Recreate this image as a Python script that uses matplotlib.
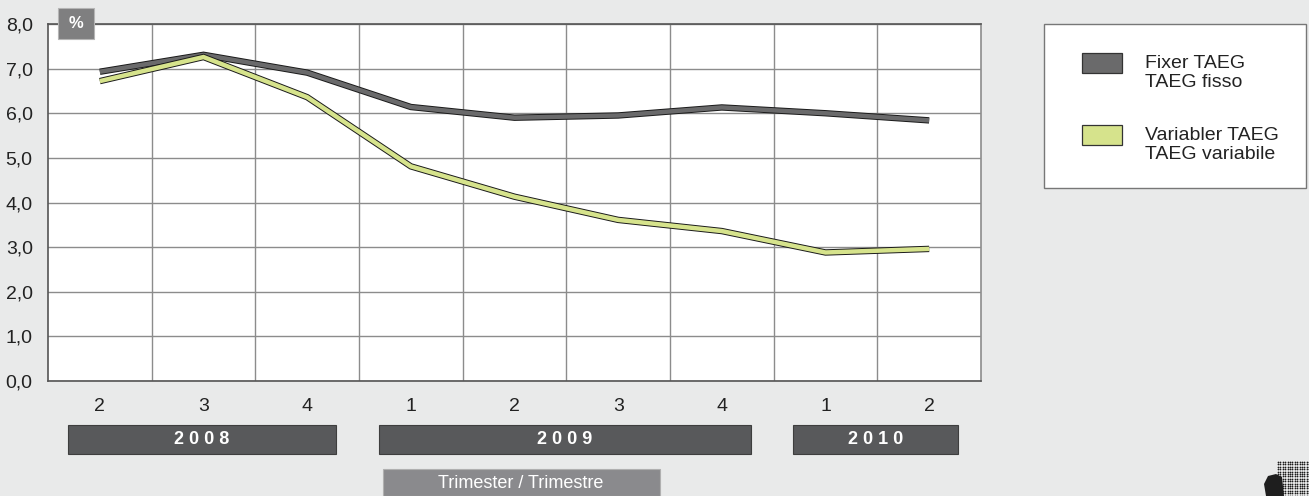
import matplotlib.pyplot as plt
import matplotlib.patches as patches
import matplotlib.patheffects as pe
from matplotlib.transforms import blended_transform_factory

# Data
quarters = ["2", "3", "4", "1", "2", "3", "4", "1", "2"]
fixed_taeg = [6.93, 7.31, 6.91, 6.14, 5.90, 5.95, 6.13, 6.00, 5.84]
variable_taeg = [6.72, 7.26, 6.36, 4.81, 4.13, 3.61, 3.36, 2.88, 2.96]
years = ["2008", "2009", "2010"]
year_spans = [(0, 2), (3, 6), (7, 8)]
y_ticks = [0, 1, 2, 3, 4, 5, 6, 7, 8]

W, H = 1309, 496
bg = "#e9eaea"
dark = "#6a6a6b"
light = "#d6e38c"
bar_col = "#58595b"
grid_col = "#8c8c8c"

plt.rcParams["font.family"] = ["Liberation Sans", "DejaVu Sans"]

fig = plt.figure(figsize=(W / 100, H / 100), dpi=100, facecolor=bg)


def px(x0, y0, x1, y1):
    """Pixel box (top-left origin) -> figure fraction rect."""
    return [x0 / W, 1 - y1 / H, (x1 - x0) / W, (y1 - y0) / H]


ax = fig.add_axes(px(48, 24, 981, 381))
ax.set_facecolor("white")
ax.set_xlim(-0.5, 8.5)
ax.set_ylim(0, 8)

x = list(range(len(quarters)))
for vals, col in [(fixed_taeg, dark), (variable_taeg, light)]:
    ax.plot(x, vals, color=col, lw=3.2, solid_joinstyle="miter", solid_capstyle="butt",
            path_effects=[pe.Stroke(linewidth=4.6, foreground="#1a1a1a"), pe.Normal()], zorder=3)

ax.set_yticks(y_ticks)
ax.set_yticklabels([f"{v},0" for v in y_ticks], fontsize=14, color="#222222")
ax.set_xticks(x)
ax.set_xticklabels(quarters, fontsize=14, color="#222222")
ax.set_xticks([i + 0.5 for i in range(len(quarters) - 1)], minor=True)
ax.tick_params(axis="both", length=0, which="both")
ax.tick_params(axis="x", pad=12)
ax.tick_params(axis="y", pad=11)
ax.grid(True, axis="y", color=grid_col, lw=1)
ax.grid(True, axis="x", which="minor", color=grid_col, lw=1)
ax.set_axisbelow(True)
for side, s in ax.spines.items():
    s.set_color("#555555" if side in ("left", "bottom", "top") else grid_col)
    s.set_linewidth(1.2)

# "%" box
fig.patches.append(patches.Rectangle((58 / W, 1 - 39 / H), 36 / W, 31 / H,
                                     transform=fig.transFigure, facecolor="#7f7f80",
                                     edgecolor="#b5b5b5", lw=0.8, zorder=5))
fig.text(76 / W, 1 - 24 / H, "%", color="white", fontsize=12, fontweight="bold",
         ha="center", va="center", zorder=6)

# year bars below the quarter labels
tr = blended_transform_factory(ax.transData, fig.transFigure)
for label, (a, b) in zip(years, year_spans):
    x0, x1 = a - 0.31, b + 0.28
    ax.add_patch(patches.Rectangle((x0, 1 - 454 / H), x1 - x0, 29 / H, transform=tr,
                                   facecolor=bar_col, edgecolor="#3e3e3e", lw=0.8,
                                   clip_on=False))
    ax.text((x0 + x1) / 2, 1 - 440 / H, " ".join(label), transform=tr, color="white",
            fontsize=13, fontweight="bold", ha="center", va="center")

# axis title box
fig.patches.append(patches.Rectangle((383 / W, 0), 277 / W, 27 / H,
                                     transform=fig.transFigure, facecolor="#8a8a8d",
                                     edgecolor="#b0b0b0", lw=0.8))
fig.text(521 / W, 1 - 484 / H, "Trimester / Trimestre", color="white", fontsize=13,
         ha="center", va="center")

# legend
fig.patches.append(patches.Rectangle((1044 / W, 1 - 188 / H), 262 / W, 164 / H,
                                     transform=fig.transFigure, facecolor="white",
                                     edgecolor="#777777", lw=1))
legend_items = [("Fixer TAEG\nTAEG fisso", dark, 63), ("Variabler TAEG\nTAEG variabile", light, 135)]
for text, col, yc in legend_items:
    fig.patches.append(patches.Rectangle((1082 / W, 1 - (yc + 10) / H), 40 / W, 20 / H,
                                         transform=fig.transFigure, facecolor=col,
                                         edgecolor="#333333", lw=0.9))
    fig.text(1145 / W, 1 - (yc + 10) / H, text, fontsize=14, color="#222222",
             ha="left", va="center", linespacing=1.1)

# halftone logo corner
lax = fig.add_axes(px(1260, 456, 1309, 496))
lax.set_xlim(1260, 1309)
lax.set_ylim(496, 456)
lax.axis("off")
dots_x, dots_y = [], []
for i in range(14):
    for j in range(15):
        dots_x.append(1278 + i * 2.4)
        dots_y.append(462 + j * 2.4)
lax.scatter(dots_x, dots_y, s=1.6, color="#1e1e1e", lw=0)
lax.add_patch(patches.Polygon([(1266, 496), (1264, 484), (1268, 476), (1276, 474),
                               (1282, 477), (1284, 496)], color="#1e1e1e", lw=0))

fig.savefig("out.png", dpi=100, facecolor=bg)
